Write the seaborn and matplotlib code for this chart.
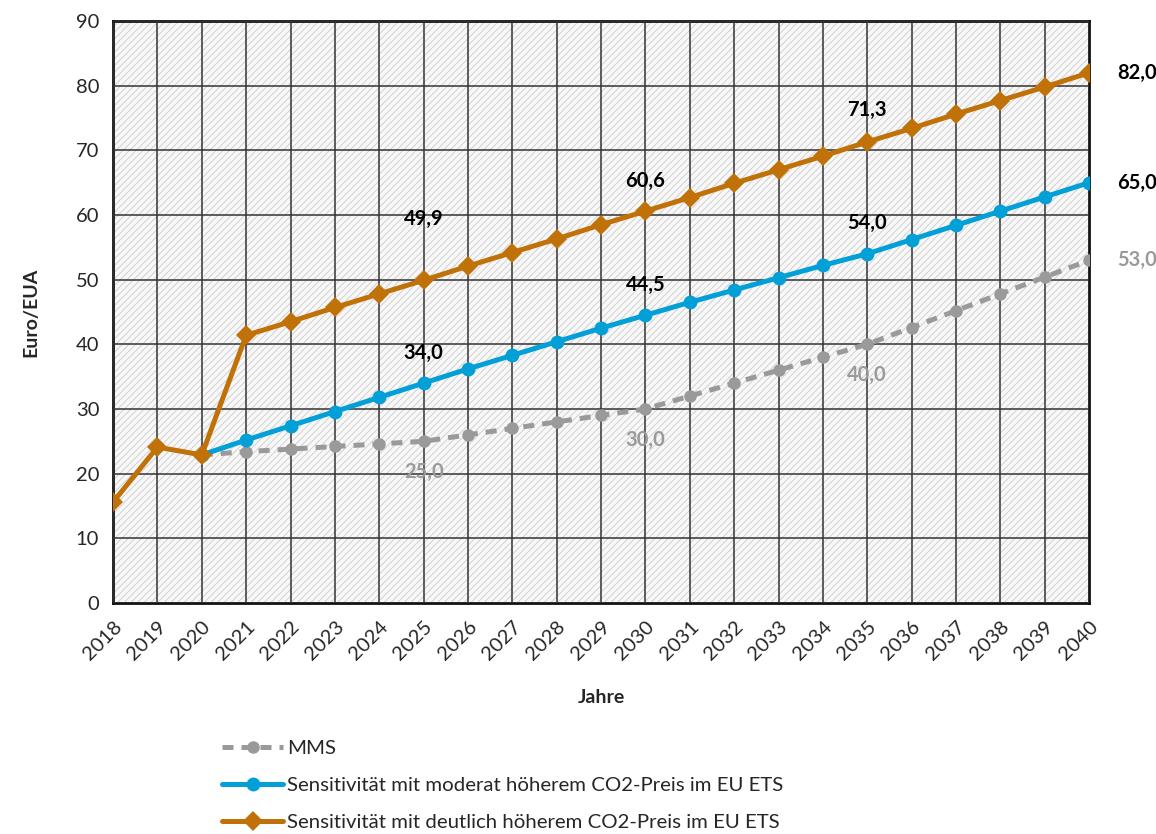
import numpy as np
import pandas as pd
import matplotlib
matplotlib.use("Agg")
import matplotlib.pyplot as plt
import seaborn as sns
from matplotlib.patches import Rectangle

# data
years = list(range(2018, 2041))
mms_years = list(range(2020, 2041))
mms = [22.9, 23.4, 23.8, 24.2, 24.6, 25.0, 26.0, 27.0, 28.0, 29.0, 30.0,
       32.0, 34.0, 36.0, 38.0, 40.0, 42.6, 45.2, 47.8, 50.4, 53.0]
moderat_years = list(range(2020, 2041))
moderat = [22.9, 25.2, 27.4, 29.6, 31.8, 34.0, 36.2, 38.3, 40.4, 42.5, 44.5,
           46.5, 48.4, 50.3, 52.2, 54.0, 56.2, 58.4, 60.6, 62.8, 65.0]
deutlich = [15.6, 24.1, 22.9, 41.4, 43.5, 45.7, 47.8, 49.9, 52.1, 54.2, 56.3,
            58.5, 60.6, 62.7, 64.9, 67.0, 69.1, 71.3, 73.4, 75.6, 77.7, 79.8, 82.0]
series_names = ["MMS",
                "Sensitivität mit moderat höherem CO2-Preis im EU ETS",
                "Sensitivität mit deutlich höherem CO2-Preis im EU ETS"]
y_ticks = list(range(0, 100, 10))

GRAY = "#9a9a9a"
BLUE = "#03a0d8"
ORANGE = "#c07208"

sns.set_theme(style="white")
plt.rcParams["font.family"] = ["Lato", "DejaVu Sans"]
plt.rcParams["hatch.linewidth"] = 0.7
plt.rcParams["hatch.color"] = "#d0d0d0"

fig = plt.figure(figsize=(11.56, 8.34), dpi=100)
ax = fig.add_axes([0.0978, 0.277, 0.8443, 0.6978])

# hatched plot area
ax.add_patch(Rectangle((0, 0), 1, 1, transform=ax.transAxes, facecolor="#f8f8f8",
                       edgecolor="#d0d0d0", hatch="/////", lw=0, zorder=0))

sns.lineplot(x=mms_years, y=mms, ax=ax, color=GRAY, lw=3.6, linestyle=(0, (2.2, 1.6)),
             marker="o", markersize=9, markeredgewidth=0, label=series_names[0], zorder=3)
sns.lineplot(x=moderat_years, y=moderat, ax=ax, color=BLUE, lw=3.6,
             marker="o", markersize=10, markeredgewidth=0, label=series_names[1], zorder=4)
sns.lineplot(x=years, y=deutlich, ax=ax, color=ORANGE, lw=3.6,
             marker="D", markersize=10.5, markeredgewidth=0, label=series_names[2], zorder=5)

ax.set_xlim(2018, 2040)
ax.set_ylim(0, 90)
ax.set_xticks(years)
ax.set_xticklabels([str(y) for y in years], rotation=45, ha="right",
                   rotation_mode="anchor", fontsize=14.5)
ax.set_yticks(y_ticks)
ax.set_yticklabels([str(v) for v in y_ticks], fontsize=14.5)
ax.tick_params(axis="x", direction="out", length=7, width=1.5, color="#222222", pad=4)
ax.tick_params(axis="y", length=0, pad=10)
ax.grid(True, color="#333333", lw=1.1, zorder=1)
ax.set_axisbelow(False)
for s in ax.spines.values():
    s.set_color("#111111")
    s.set_linewidth(2)
ax.set_xlabel("Jahre", fontsize=14, fontweight="bold", labelpad=18)
ax.set_ylabel("Euro/EUA", fontsize=14, fontweight="bold", labelpad=26)

def fmt(v):
    return f"{v:.1f}".replace(".", ",")

def label(x, y, dx, dy, color, ha="center"):
    ax.annotate(fmt(y), (x, y), xytext=(dx, dy), textcoords="offset points",
                ha=ha, va="center", fontsize=14.5, fontweight="bold", color=color,
                annotation_clip=False, zorder=6)

d = dict(zip(years, deutlich))
m = dict(zip(moderat_years, moderat))
g = dict(zip(mms_years, mms))
label(2025, d[2025], 0, 44, "black")
label(2030, d[2030], 0, 22, "black")
label(2035, d[2035], 0, 23, "black")
label(2040, d[2040], 20, 0, "black", ha="left")
for yr in (2025, 2030, 2035):
    label(yr, m[yr], 0, 22, "black")
    label(yr, g[yr], 0, -22, GRAY)
label(2040, m[2040], 20, 0, "black", ha="left")
label(2040, g[2040], 20, 0, GRAY, ha="left")

ax.legend(loc="upper left", bbox_to_anchor=(222 / 1156, 1 - 740 / 834),
          bbox_transform=fig.transFigure, frameon=False,
          fontsize=14.7, handlelength=3.0, handletextpad=0.2, labelspacing=0.95,
          borderaxespad=0, borderpad=0)

fig.savefig("out.png", dpi=100)
